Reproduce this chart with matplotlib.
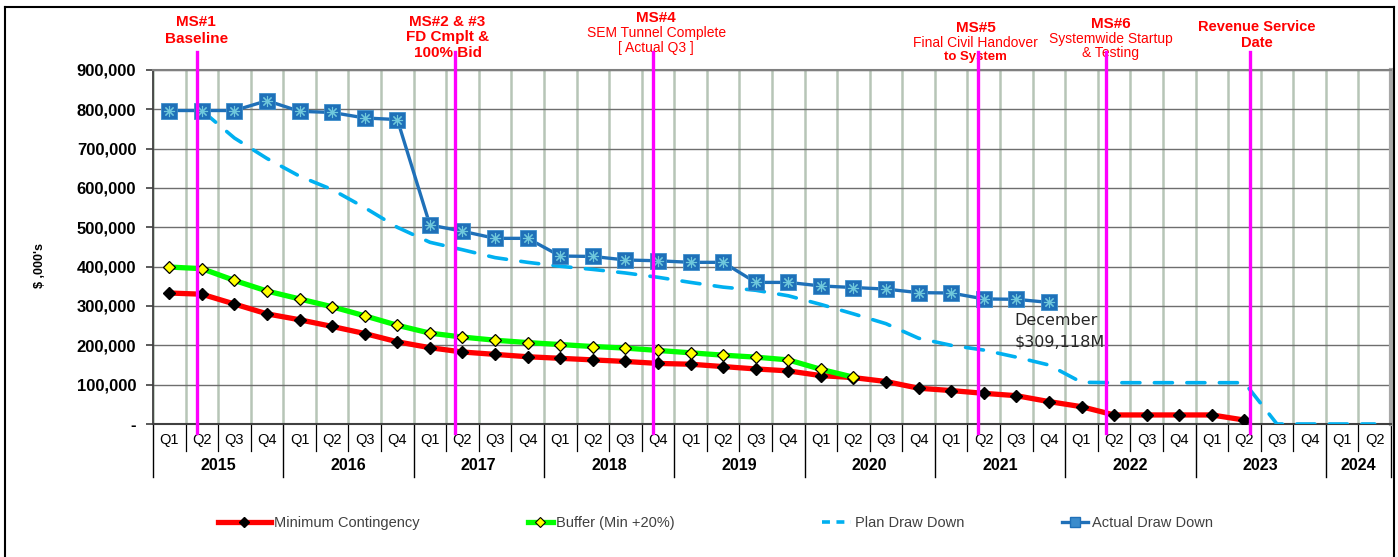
import numpy as np
import matplotlib.pyplot as plt
from matplotlib.lines import Line2D

plt.rcParams['font.family'] = ['Liberation Sans', 'DejaVu Sans']

# --- data (values in $ ,000's) ---
quarters = ['Q1', 'Q2', 'Q3', 'Q4'] * 9 + ['Q1', 'Q2']
years = ['2015', '2016', '2017', '2018', '2019', '2020', '2021', '2022', '2023', '2024']
quarters_per_year = [4, 4, 4, 4, 4, 4, 4, 4, 4, 2]

min_contingency = [333, 330, 305, 280, 265, 248, 230, 209, 194, 183, 177, 171,
                   167, 163, 159, 154, 152, 146, 140, 135, 123, 118, 108, 91,
                   85, 78, 72, 57, 44, 23, 23, 23, 23, 10]
buffer_20 = [399, 395, 365, 338, 318, 298, 275, 251, 231, 221, 213, 207,
             202, 197, 193, 187, 181, 175, 170, 163, 139, 119]
plan_draw = [np.nan, 797, 727, 675, 630, 596, 550, 500, 462, 443, 423, 411,
             401, 393, 384, 373, 360, 348, 340, 326, 304, 280, 255, 218,
             200, 188, 170, 150, 106, 105, 105, 105, 105, 105, 0, 0, 0, 0]
actual_draw = [797, 797, 797, 822, 795, 792, 778, 774, 506, 490, 472, 472,
               427, 426, 417, 415, 411, 411, 360, 360, 351, 347, 343, 334,
               333, 318, 317, 309.118]

# milestone positions (in quarter index units) and labels
ms_x = [0.84, 8.76, 14.86, 24.82, 28.76, 33.16]
ms_labels = [
    ['MS#1', 'Baseline'],
    ['MS#2 & #3', 'FD Cmplt &', '100% Bid'],
    ['MS#4', 'SEM Tunnel Complete', '[ Actual Q3 ]'],
    ['MS#5', 'Final Civil Handover', 'to System'],
    ['MS#6', 'Systemwide Startup', '& Testing'],
    ['Revenue Service', 'Date'],
]
note_text = 'December\n$309,118M'

# --- figure ---
fig = plt.figure(figsize=(13.98, 5.57), dpi=100)
ax = fig.add_axes([153 / 1398, 133 / 557, 1238 / 1398, 354 / 557])

x = np.arange(len(quarters))
k = 1000

ax.plot(x[:len(plan_draw)], np.array(plan_draw) * k, color='#00b0f0', lw=2.6,
        dashes=(5, 4), dash_capstyle='round', zorder=3)
ax.plot(x[:len(min_contingency)], np.array(min_contingency) * k, color='#ff0000', lw=3.8,
        marker='D', ms=6, mfc='black', mec='black', zorder=4)
ax.plot(x[:len(buffer_20)], np.array(buffer_20) * k, color='#00ff00', lw=3.8,
        marker='D', ms=6.5, mfc='#ffff00', mec='black', mew=0.9, zorder=5)
ax.plot(x[:len(actual_draw)], np.array(actual_draw) * k, color='#1f70b8', lw=2.4,
        marker='s', ms=11, mfc='#1f70b8', mec='#3d8fcc', mew=0.6, zorder=6)
ax.plot(x[:len(actual_draw)], np.array(actual_draw) * k, ls='none',
        marker=(8, 2, 0), ms=8, mec='#6fc8dc', mew=0.8, zorder=7)

ax.set_xlim(-0.5, len(quarters) - 0.5)
ax.set_ylim(0, 900000)
ax.set_yticks(np.arange(0, 900001, 100000))
ax.set_yticklabels(['-'] + [f'{v:,}' for v in range(100000, 900001, 100000)],
                   fontsize=12, fontweight='bold')
ax.set_xticks([])
ax.set_xticks(np.arange(-0.5, len(quarters), 1), minor=True)
ax.tick_params(axis='x', which='minor', length=0)
ax.tick_params(axis='y', length=5, width=1.2, color='#404040', pad=7)
ax.grid(axis='y', color='#6e6e6e', lw=1.0, zorder=1)
ax.grid(axis='x', which='minor', color='#b7c5b7', lw=1.8, zorder=0)
ax.set_axisbelow(True)

ax.spines['top'].set_color('#808080')
ax.spines['top'].set_linewidth(1.5)
ax.spines['right'].set_color('#a8a8a8')
ax.spines['right'].set_linewidth(3)
ax.spines['left'].set_color('#404040')
ax.spines['left'].set_linewidth(1.3)
ax.spines['bottom'].set_color('#404040')
ax.spines['bottom'].set_linewidth(1.5)

# multi-level category axis
xt = ax.get_xaxis_transform()
for i, q in enumerate(quarters):
    ax.text(i, -0.045, q, transform=xt, ha='center', va='center', fontsize=10.5)
start = 0
year_bounds = [-0.5]
for yr, n in zip(years, quarters_per_year):
    ax.text(start + (n - 1) / 2, -0.118, yr, transform=xt, ha='center', va='center',
            fontsize=11.5, fontweight='bold')
    start += n
    year_bounds.append(start - 0.5)
for b in np.arange(0.5, len(quarters) - 0.5, 1):
    if b not in year_bounds:
        ax.plot([b, b], [0, -0.075], transform=xt, color='black', lw=0.9, clip_on=False)
for b in year_bounds:
    ax.plot([b, b], [0, -0.15], transform=xt, color='black', lw=1.0, clip_on=False)

# milestone lines and labels
ms_text_x = [0.83, 8.54, 14.95, 24.75, 28.89, 33.39]
ms_text_y = [[1.135, 1.087],
             [1.136, 1.094, 1.049],
             [1.146, 1.104, 1.061],
             [1.118, 1.077, 1.036],
             [1.130, 1.087, 1.047],
             [1.121, 1.077]]
ms_styles = [[('bold', 11), ('bold', 11)],
             [('bold', 11), ('bold', 11), ('bold', 11)],
             [('bold', 11), ('normal', 10), ('normal', 10)],
             [('bold', 11), ('normal', 10), ('bold', 9.5)],
             [('bold', 11), ('normal', 10), ('normal', 10)],
             [('bold', 10.5), ('bold', 10.5)]]
for mx, tx, lines, ys, sts in zip(ms_x, ms_text_x, ms_labels, ms_text_y, ms_styles):
    ax.plot([mx, mx], [1.05, -0.025], transform=xt, color='#ff00ff', lw=2.4,
            clip_on=False, zorder=8)
    for line, yy, (w, s) in zip(lines, ys, sts):
        ax.text(tx, yy, line, transform=xt, ha='center', va='center', color='#ff0000',
                fontsize=s, fontweight=w)

ax.text(len(actual_draw) - 1 - 1.05, 235000, note_text, ha='left', va='center',
        fontsize=11.5, color='#262626', linespacing=1.55, family='DejaVu Sans')

fig.text(40 / 1398, 1 - 265 / 557, "$ ,000's", rotation=90, ha='center', va='center',
         fontsize=9, fontweight='bold')

# legend
handles = [
    Line2D([], [], color='#ff0000', lw=3.8, marker='D', ms=5, mfc='black', mec='black'),
    Line2D([], [], color='#00ff00', lw=3.8, marker='D', ms=5, mfc='#ffff00', mec='black', mew=0.8),
    Line2D([], [], color='#00b0f0', lw=2.6, dashes=(2.2, 1.8)),
    Line2D([], [], color='#1f70b8', lw=2.4, marker='s', ms=7, mfc='#3b8ccc', mec='#1f70b8'),
]
names = ['Minimum Contingency', 'Buffer (Min +20%)', 'Plan Draw Down', 'Actual Draw Down']
leg_x = [218, 528, 822, 1062]
leg_len = [3.6, 1.7, 2.0, 1.8]
for h, n, lx, hl in zip(handles, names, leg_x, leg_len):
    fig.legend(handles=[h], labels=[n], loc='center left', bbox_to_anchor=(lx / 1398, 34 / 557),
               frameon=False, fontsize=10.5, handlelength=hl, handletextpad=0.25,
               borderaxespad=0, borderpad=0, labelcolor='#404040')

# outer border
for xs, ys in [([5, 1394], [7, 7]), ([5, 5], [7, 557]), ([1394, 1394], [7, 557])]:
    fig.add_artist(Line2D([v / 1398 for v in xs], [1 - v / 557 for v in ys], color='black', lw=1.5))

fig.savefig('out.png', dpi=100)
